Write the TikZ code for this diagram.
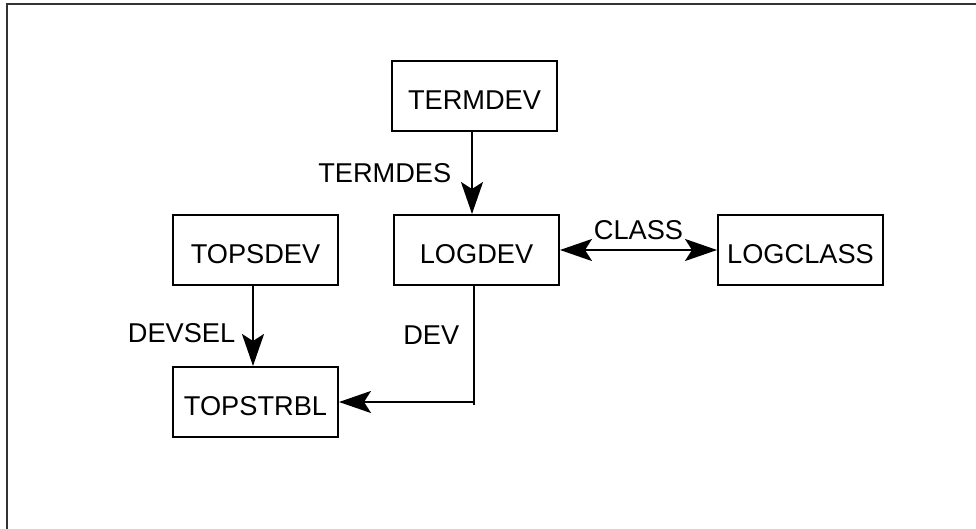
\documentclass[tikz,border=0pt]{standalone}
\usepackage{fontspec}
\setmainfont{Liberation Sans}
\usetikzlibrary{arrows.meta,positioning}

\begin{document}
\begin{tikzpicture}[
    every node/.style={font=\fontsize{13.6pt}{16pt}\selectfont},
    entity/.style={draw, line width=1pt, minimum width=82.5pt, minimum height=35pt, text height=13.2pt, text depth=0pt, inner sep=3pt},
    link/.style={line width=1.1pt},
    flow/.style={-{Stealth[length=16pt, width=11pt, inset=3.5pt]}, line width=1.1pt},
    both/.style={{Stealth[length=16pt, width=11pt, inset=3.5pt]}-{Stealth[length=16pt, width=11pt, inset=3.5pt]}, line width=1.1pt},
    frame/.style={line width=1pt, black!80}
]
\useasboundingbox (0,0) rectangle (488pt,-264.5pt);
\draw[frame] (3.5pt,-264.5pt) -- (3.5pt,-2.25pt) -- (488pt,-2.25pt);

\node[entity] (termdev) at (237.25pt,-48pt) {TERMDEV};
\node[entity, below=41pt of termdev, xshift=1pt] (logdev) {LOGDEV};
\node[entity, left=27pt of logdev] (topsdev) {TOPSDEV};
\node[entity, below=40pt of topsdev] (topstrbl) {TOPSTRBL};
\node[entity, right=78.5pt of logdev] (logclass) {LOGCLASS};
\coordinate (devturn) at ([xshift=-1.25pt]logdev.south |- topstrbl.east);

\draw[flow] ([xshift=-1.25pt]termdev.south) -- node[midway, left=6.5pt] {TERMDES} ([xshift=-2.25pt]logdev.north);
\draw[flow] ([xshift=-1.25pt]topsdev.south) -- node[pos=0.585, left=5pt] {DEVSEL} ([xshift=-1.25pt]topstrbl.north);
\draw[link] ([xshift=-1.25pt]logdev.south) -- node[pos=0.41, left=3.5pt] {DEV} ([yshift=-1.5pt]devturn);
\draw[flow] (devturn) -- (topstrbl.east);
\draw[both] (logdev.east) -- node[midway, above=1pt] {CLASS} (logclass.west);
\end{tikzpicture}
\end{document}
